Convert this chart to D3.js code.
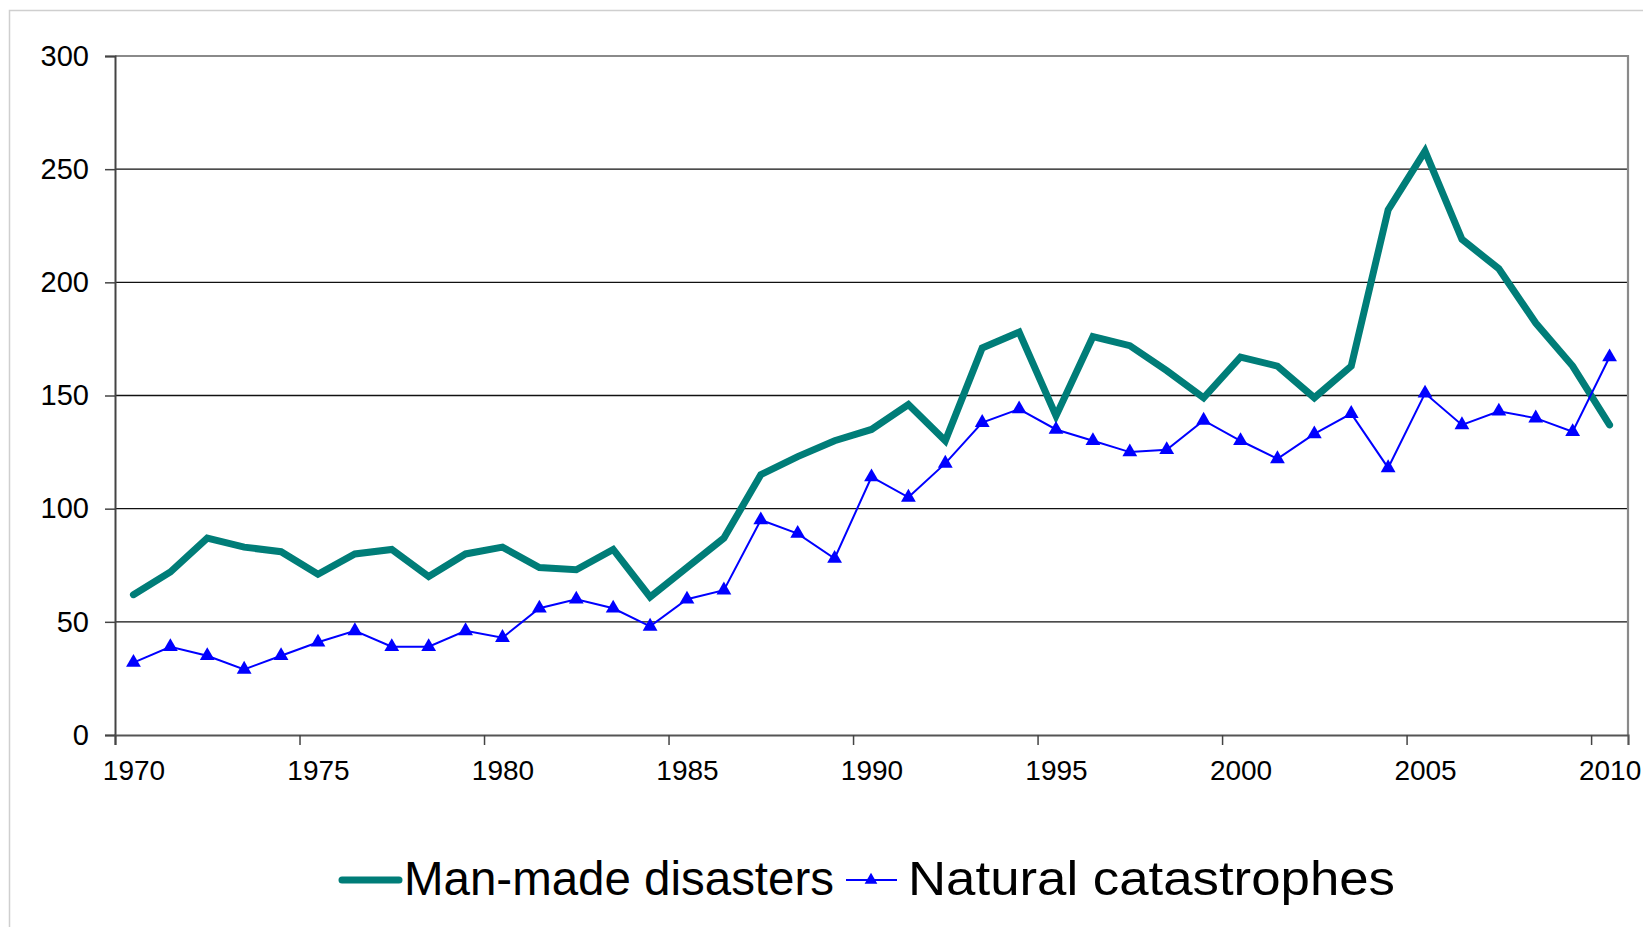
<!DOCTYPE html>
<html>
<head>
<meta charset="utf-8">
<script src="https://cdn.jsdelivr.net/npm/d3@7/dist/d3.min.js"></script>
<style>
  html, body { margin: 0; padding: 0; background: #fff; }
  svg { display: block; }
  text { font-family: "Liberation Sans", Arial, sans-serif; fill: #000; }
</style>
</head>
<body>
<svg id="chart" width="1643" height="927"></svg>
<script>
const years = [1970,1971,1972,1973,1974,1975,1976,1977,1978,1979,
               1980,1981,1982,1983,1984,1985,1986,1987,1988,1989,
               1990,1991,1992,1993,1994,1995,1996,1997,1998,1999,
               2000,2001,2002,2003,2004,2005,2006,2007,2008,2009,2010];
const manMade = [62,72,87,83,81,71,80,82,70,80,
                 83,74,73,82,61,74,87,115,123,130,
                 135,146,130,171,178,141,176,172,161,149,
                 167,163,149,163,232,258,219,206,182,163,137];
const natural = [32,39,35,29,35,41,46,39,39,46,
                 43,56,60,56,48,60,64,95,89,78,
                 114,105,120,138,144,135,130,125,126,139,
                 130,122,133,142,118,151,137,143,140,134,167];
const seriesNames = ["Man-made disasters", "Natural catastrophes"];
const yTicks = [0,50,100,150,200,250,300];
const xTicks = [1970,1975,1980,1985,1990,1995,2000,2005,2010];

(function () {
const svg = d3.select("#chart");
const mLeft = 115, mRight = 1628, mTop = 56, mBottom = 735;
const teal = "#007d78", blue = "#0000ff";

// outer chart border
svg.append("rect").attr("x", 9.5).attr("y", 10.5).attr("width", 1700).attr("height", 1000)
  .attr("fill", "#fff").attr("stroke", "#cfcfcf").attr("stroke-width", 1.5);

const x = d3.scaleLinear().domain([1970, 2011]).range([mLeft, mRight]);
const y = d3.scaleLinear().domain([0, 300]).range([mBottom, mTop]);
const half = x(1970.5) - x(1970);

// gridlines
svg.append("g").selectAll("line").data(yTicks.filter(d => d > 0 && d < 300)).join("line")
  .attr("x1", mLeft).attr("x2", mRight)
  .attr("y1", d => y(d)).attr("y2", d => y(d))
  .attr("stroke", "#111").attr("stroke-width", 1.3);

// plot border (top & right)
svg.append("path")
  .attr("d", `M${mLeft},${y(300)}H${mRight}V${y(0)}`)
  .attr("fill", "none").attr("stroke", "#8a8a8a").attr("stroke-width", 2.2);

// y axis
const yAxis = svg.append("g").attr("transform", `translate(${mLeft},0)`)
  .call(d3.axisLeft(y).tickValues(yTicks).tickSize(10).tickPadding(16).tickFormat(d3.format("d")));
yAxis.selectAll("text").style("font-size", "29px").style("font-family", '"Liberation Sans", Arial, sans-serif').attr("fill", "#000");
yAxis.select(".domain").attr("stroke", "#444").attr("stroke-width", 2);
yAxis.selectAll(".tick line").attr("stroke", "#444").attr("stroke-width", 1.5);

// x axis
const xAxis = svg.append("g").attr("transform", `translate(0,${mBottom})`)
  .call(d3.axisBottom(x).tickValues(xTicks).tickSize(10).tickPadding(15).tickFormat(d3.format("d")));
xAxis.selectAll("text").style("font-size", "28px").style("font-family", '"Liberation Sans", Arial, sans-serif')
  .attr("fill", "#000").attr("x", half);
xAxis.select(".domain").attr("stroke", "#555").attr("stroke-width", 2.2);
xAxis.selectAll(".tick line").attr("stroke", "#444").attr("stroke-width", 1.5);

// series
const line = d3.line().x(d => x(d[0] + 0.5)).y(d => y(d[1]));
const mmData = years.map((yr, i) => [yr, manMade[i]]);
const natData = years.map((yr, i) => [yr, natural[i]]);

svg.append("path").datum(mmData).attr("d", line)
  .attr("fill", "none").attr("stroke", teal).attr("stroke-width", 7)
  .attr("stroke-linejoin", "miter").attr("stroke-linecap", "round");

svg.append("path").datum(natData).attr("d", line)
  .attr("fill", "none").attr("stroke", blue).attr("stroke-width", 2);

const tri = d3.symbol(d3.symbolTriangle).size(95);
svg.append("g").selectAll("path").data(natData).join("path")
  .attr("d", tri)
  .attr("transform", d => `translate(${x(d[0] + 0.5)},${y(d[1])})`)
  .attr("fill", blue);

// legend
const lg = svg.append("g");
const ly = 880, lbase = 895;
lg.append("line").attr("x1", 342).attr("x2", 399).attr("y1", ly).attr("y2", ly)
  .attr("stroke", teal).attr("stroke-width", 7).attr("stroke-linecap", "round");
lg.append("text").attr("x", 404).attr("y", lbase).style("font-size", "48px")
  .attr("textLength", 430).attr("lengthAdjust", "spacingAndGlyphs").text(seriesNames[0]);
lg.append("line").attr("x1", 846).attr("x2", 897).attr("y1", ly).attr("y2", ly)
  .attr("stroke", blue).attr("stroke-width", 2);
lg.append("path").attr("d", d3.symbol(d3.symbolTriangle).size(70))
  .attr("transform", `translate(871,${ly})`).attr("fill", blue);
lg.append("text").attr("x", 908).attr("y", lbase).style("font-size", "48px")
  .attr("textLength", 487).attr("lengthAdjust", "spacingAndGlyphs").text(seriesNames[1]);
})();
</script>
</body>
</html>
